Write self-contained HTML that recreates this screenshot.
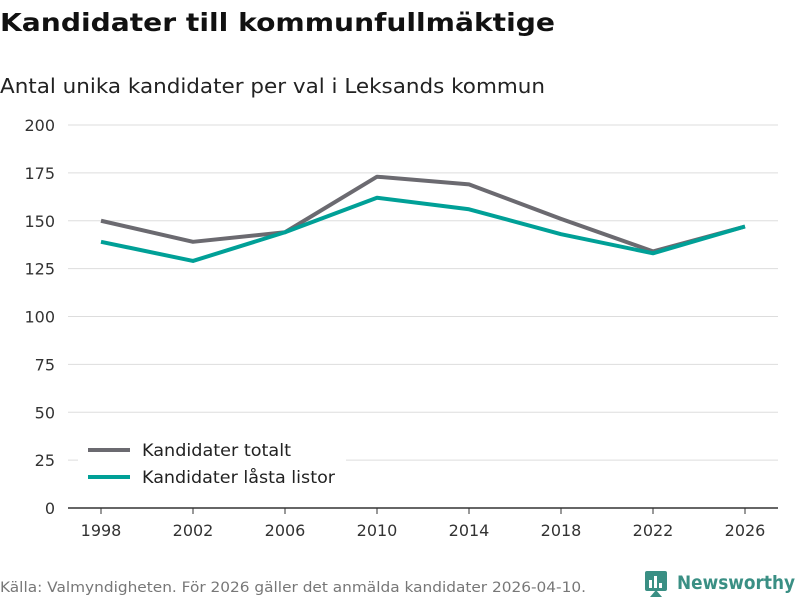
<!DOCTYPE html>
<html><head><meta charset="utf-8"><style>
body{margin:0;background:#fff;width:800px;height:600px;overflow:hidden;font-family:"DejaVu Sans","Liberation Sans",sans-serif}
</style></head><body>
<svg width="800" height="600" xmlns="http://www.w3.org/2000/svg">
<text x="0" y="31" font-size="25" font-weight="bold" fill="#111" font-family="DejaVu Sans, Liberation Sans, sans-serif" textLength="555" lengthAdjust="spacingAndGlyphs">Kandidater till kommunfullmäktige</text>
<text x="0" y="93" font-size="20" fill="#222" font-family="DejaVu Sans, Liberation Sans, sans-serif" textLength="545" lengthAdjust="spacingAndGlyphs">Antal unika kandidater per val i Leksands kommun</text>
<g id="grid"></g><g id="yticks"></g><g id="xticks"></g><g id="lines"></g>
<g>
<rect x="78" y="434" width="268" height="58" fill="#fff"/>
<line x1="88" y1="450" x2="130" y2="450" stroke="#6b6a70" stroke-width="4"/>
<text x="142" y="456" font-size="17" fill="#222" textLength="149" lengthAdjust="spacingAndGlyphs">Kandidater totalt</text>
<line x1="88" y1="477" x2="130" y2="477" stroke="#00a097" stroke-width="4"/>
<text x="142" y="483" font-size="17" fill="#222" textLength="193" lengthAdjust="spacingAndGlyphs">Kandidater låsta listor</text>
</g>
<text x="0" y="592" font-size="14" fill="#777" textLength="586" lengthAdjust="spacingAndGlyphs">Källa: Valmyndigheten. För 2026 gäller det anmälda kandidater 2026-04-10.</text>
<g>
<rect x="645" y="571" width="22" height="20" rx="2" fill="#3a8f84"/>
<path d="M650 597 L656 590 L662 597 Z" fill="#3a8f84"/>
<rect x="649" y="580" width="3" height="8" fill="#fff"/><rect x="654" y="576" width="3" height="12" fill="#fff"/><rect x="659" y="583" width="3" height="5" fill="#fff"/>
<text x="677" y="589" font-size="19" font-weight="bold" fill="#3a8f84" textLength="118" lengthAdjust="spacingAndGlyphs">Newsworthy</text>
</g>
</svg>
<script>
const years=[1998,2002,2006,2010,2014,2018,2022,2026];
const totalt=[150,139,144,173,169,151,134,147];
const lasta=[139,129,144,162,156,143,133,147];
const yTicks=[0,25,50,75,100,125,150,175,200];
const NS="http://www.w3.org/2000/svg";
const x=v=>101+(v-1998)*(644/28);
const y=v=>508-v*(383/200);
function mk(t,a,p){const e=document.createElementNS(NS,t);for(const k in a)e.setAttribute(k,a[k]);p.appendChild(e);return e;}
const g=document.getElementById('grid'),yt=document.getElementById('yticks'),xt=document.getElementById('xticks'),ln=document.getElementById('lines');
yTicks.forEach(v=>{
 const l=mk('line',{x1:68,x2:778,y1:y(v),y2:y(v),stroke:v===0?'#333':'#ddd','stroke-width':v===0?1.5:1},g);
 
 
 const t=mk('text',{x:55,y:y(v)+6,'font-size':16,fill:'#333','text-anchor':'end'},yt);t.textContent=v;
 
 
});
years.forEach(v=>{
 const l=mk('line',{x1:x(v),x2:x(v),y1:508,y2:514,stroke:'#333'},xt);
 
 
 const t=mk('text',{x:x(v),y:536,'font-size':16,fill:'#333','text-anchor':'middle'},xt);t.textContent=v;
 
 
});
function line(data,color,name){
 const p=mk('polyline',{points:data.map((d,i)=>x(years[i])+','+y(d)).join(' '),fill:'none',stroke:color,'stroke-width':4,'stroke-linejoin':'round'},ln);
 
 
}
line(totalt,'#6b6a70','line-kandidater-totalt');
line(lasta,'#00a097','line-kandidater-lasta-listor');
</script>
</body></html>
